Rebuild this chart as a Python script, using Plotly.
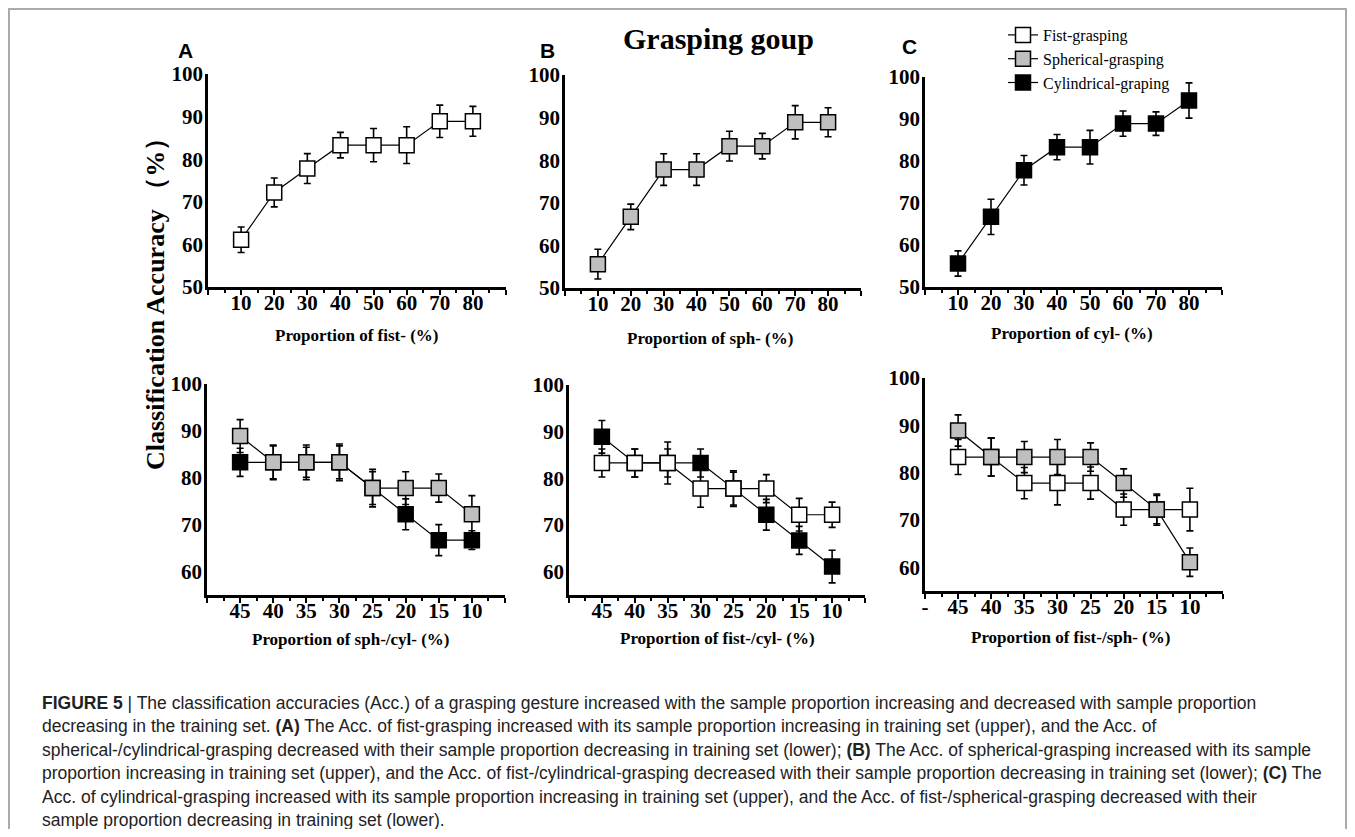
import plotly.graph_objects as go

# Page body has an 8px default margin, so the figure is made 16px smaller
# and all reference pixel positions are shifted by that offset.
OFF = 8
W, H = 1355 - 2 * OFF, 837 - 2 * OFF

# ---------------- data ----------------
x_up = [10, 20, 30, 40, 50, 60, 70, 80]
x_low = [45, 40, 35, 30, 25, 20, 15, 10]

# Upper row
a_fist = [61.1, 72.2, 77.8, 83.3, 83.3, 83.3, 88.9, 88.9]
a_fist_err = [3.0, 3.4, 3.5, 3.0, 3.9, 4.3, 3.8, 3.5]
b_sph = [55.6, 66.7, 77.8, 77.8, 83.3, 83.3, 88.9, 88.9]
b_sph_err = [3.5, 3.0, 3.7, 3.7, 3.5, 3.0, 3.9, 3.4]
c_cyl = [55.6, 66.7, 77.8, 83.3, 83.3, 88.9, 88.9, 94.4]
c_cyl_err = [3.0, 4.2, 3.5, 3.0, 4.0, 3.0, 2.8, 4.2]

# Lower row
la_sph = [88.9, 83.3, 83.3, 83.3, 77.8, 77.8, 77.8, 72.2]
la_sph_err = [3.5, 3.7, 3.7, 3.9, 4.0, 3.5, 3.0, 4.0]
la_cyl = [83.3, 83.3, 83.3, 83.3, 77.8, 72.2, 66.7, 66.7]
la_cyl_err = [3.0, 3.5, 3.2, 3.5, 3.5, 3.3, 3.3, 2.0]

lb_cyl = [88.9, 83.3, 83.3, 83.3, 77.8, 72.2, 66.7, 61.1]
lb_cyl_err = [3.5, 3.0, 3.0, 3.0, 3.5, 3.3, 3.0, 3.5]
lb_fist = [83.3, 83.3, 83.3, 77.8, 77.8, 77.8, 72.2, 72.2]
lb_fist_err = [3.0, 3.0, 4.5, 4.0, 3.8, 3.0, 3.5, 2.7]

lc_fist = [83.3, 83.3, 77.8, 77.8, 77.8, 72.2, 72.2, 72.2]
lc_fist_err = [3.7, 4.0, 3.3, 4.6, 3.4, 3.3, 3.3, 4.5]
lc_sph = [88.9, 83.3, 83.3, 83.3, 83.3, 77.8, 72.2, 61.1]
lc_sph_err = [3.3, 4.0, 3.3, 3.7, 3.0, 3.0, 3.0, 3.0]

up_tickvals = [0, 10, 20, 30, 40, 50, 60, 70, 80, 90]
up_ticktext = ["", "10", "20", "30", "40", "50", "60", "70", "80", ""]
low_tickvals = [50, 45, 40, 35, 30, 25, 20, 15, 10, 5]
low_ticktext = ["", "45", "40", "35", "30", "25", "20", "15", "10", ""]
low_ticktext_c = ["-", "45", "40", "35", "30", "25", "20", "15", "10", ""]
y_up_ticks = [50, 60, 70, 80, 90, 100]
y_low_ticks = [60, 70, 80, 90, 100]

x_titles = ["Proportion of fist- (%)", "Proportion of sph- (%)", "Proportion of cyl- (%)",
            "Proportion of sph-/cyl- (%)", "Proportion of fist-/cyl- (%)", "Proportion of fist-/sph- (%)"]

caption_lines = [
    "<b>FIGURE 5</b> | The classification accuracies (Acc.) of a grasping gesture increased with the sample proportion increasing and decreased with sample proportion",
    "decreasing in the training set. <b>(A)</b> The Acc. of fist-grasping increased with its sample proportion increasing in training set (upper), and the Acc. of",
    "spherical-/cylindrical-grasping decreased with their sample proportion decreasing in training set (lower); <b>(B)</b> The Acc. of spherical-grasping increased with its sample",
    "proportion increasing in training set (upper), and the Acc. of fist-/cylindrical-grasping decreased with their sample proportion decreasing in training set (lower); <b>(C)</b> The",
    "Acc. of cylindrical-grasping increased with its sample proportion increasing in training set (upper), and the Acc. of fist-/spherical-grasping decreased with their",
    "sample proportion decreasing in training set (lower).",
]

# ---------------- helpers (reference screen pixels -> paper) ----------------
def px(x):
    return (x - OFF) / W

def py(y):
    return 1 - (y - OFF) / H

SERIF = "Liberation Serif"
FILL = {"fist": "white", "sph": "#bfbfbf", "cyl": "black"}
NAMES = {"fist": "Fist-grasping", "sph": "Spherical-grasping", "cyl": "Cylindrical-graping"}

fig = go.Figure()

def add(kind, x, y, err, ax, show=False):
    fig.add_trace(go.Scatter(
        x=x, y=y, mode="lines+markers", name=NAMES[kind],
        xaxis="x" + ax, yaxis="y" + ax, showlegend=show,
        line=dict(color="black", width=1.2),
        marker=dict(symbol="square", size=15, color=FILL[kind],
                    line=dict(color="black", width=1.5)),
        error_y=dict(type="data", array=err, color="black", thickness=1.6, width=3.5),
    ))

add("fist", x_up, a_fist, a_fist_err, "", True)
add("sph", x_up, b_sph, b_sph_err, "2", True)
add("cyl", x_up, c_cyl, c_cyl_err, "3", True)
add("cyl", x_low, la_cyl, la_cyl_err, "4")
add("sph", x_low, la_sph, la_sph_err, "4")
add("cyl", x_low, lb_cyl, lb_cyl_err, "5")
add("fist", x_low, lb_fist, lb_fist_err, "5")
add("fist", x_low, lc_fist, lc_fist_err, "6")
add("sph", x_low, lc_sph, lc_sph_err, "6")

# panel geometry in reference pixels: (x0, x1, ytop, ybottom)
panels = [
    (208, 506, 74, 287),
    (565, 861, 75, 288),
    (925, 1222, 77, 287),
    (207, 505, 384, 595),
    (569, 865, 385, 595),
    (925, 1223, 378, 591),
]

tickfont = dict(family=SERIF, size=21, color="black", weight="bold")
layout = dict(
    width=W, height=H, margin=dict(l=0, r=0, t=0, b=0, autoexpand=False),
    paper_bgcolor="white", plot_bgcolor="white",
    showlegend=True,
    legend=dict(x=px(1003), y=py(18), xanchor="left", yanchor="top",
                font=dict(family=SERIF, size=16, color="black"),
                bgcolor="rgba(0,0,0,0)", tracegroupgap=0,
                traceorder="normal"),
)

for i, (x0, x1, yt, yb) in enumerate(panels):
    sfx = "" if i == 0 else str(i + 1)
    upper = i < 3
    if upper:
        tv, tt, xr = up_tickvals, up_ticktext, [0, 90]
        minor_vals = [5, 15, 25, 35, 45, 55, 65, 75, 85]
        yr, ytv = [50, 100], y_up_ticks
    else:
        tv = low_tickvals
        tt = low_ticktext_c if i == 5 else low_ticktext
        xr = [50, 5]
        minor_vals = [47.5, 42.5, 37.5, 32.5, 27.5, 22.5, 17.5, 12.5, 7.5]
        yr, ytv = [55, 100], y_low_ticks
    layout["xaxis" + sfx] = dict(
        domain=[px(x0), px(x1)], anchor="y" + sfx, range=xr, automargin=False,
        tickmode="array", tickvals=tv, ticktext=tt,
        showline=True, linecolor="black", linewidth=2.5,
        ticks="outside", ticklen=5, tickwidth=2, tickcolor="black",
        ticklabelstandoff=-10,
        minor=dict(tickmode="array", tickvals=minor_vals, ticks="outside",
                   ticklen=3, tickwidth=1.5, tickcolor="black"),
        showgrid=False, zeroline=False, tickfont=tickfont,
    )
    layout["yaxis" + sfx] = dict(
        domain=[py(yb), py(yt)], anchor="x" + sfx, range=yr, automargin=False,
        tickmode="array", tickvals=ytv,
        showline=True, linecolor="black", linewidth=2.5,
        ticks="", showgrid=False, zeroline=False, tickfont=tickfont,
        ticklabelstandoff=-2,
    )

fig.update_layout(**layout)

ann = []
# x-axis titles
title_pos = [(357, 335), (710, 338), (1072, 333), (351, 639), (717, 638), (1070, 637)]
for t, (xc, yc) in zip(x_titles, title_pos):
    ann.append(dict(x=px(xc), y=py(yc), xref="paper", yref="paper", text=t,
                    showarrow=False, xanchor="center", yanchor="middle",
                    font=dict(family=SERIF, size=17, color="black", weight="bold")))
# y-axis title
ann.append(dict(x=px(155), y=py(298), xref="paper", yref="paper",
                text="Classification Accuracy （%）", textangle=-90, showarrow=False,
                xanchor="center", yanchor="middle",
                font=dict(family=SERIF, size=26, color="black", weight="bold")))
# main title
ann.append(dict(x=px(718), y=py(38), xref="paper", yref="paper", text="Grasping goup",
                showarrow=False, xanchor="center", yanchor="middle",
                font=dict(family=SERIF, size=30, color="black", weight="bold")))
# panel letters
for letter, (xc, yc) in zip(["A", "B", "C"], [(185, 50), (547, 50), (909, 46)]):
    ann.append(dict(x=px(xc), y=py(yc), xref="paper", yref="paper", text=letter,
                    showarrow=False, xanchor="center", yanchor="middle",
                    font=dict(family="Liberation Sans", size=21, color="black", weight="bold")))
# caption
for k, line in enumerate(caption_lines):
    ann.append(dict(x=px(40), y=py(703 + 23.4 * k), xref="paper", yref="paper", text=line,
                    showarrow=False, xanchor="left", yanchor="middle",
                    font=dict(family="Liberation Sans", size=17.5, color="#222222")))
fig.update_layout(annotations=ann)

# outer frame (kept inside the visible figure area)
fig.add_shape(type="rect", xref="paper", yref="paper",
              x0=px(9), x1=px(1346), y0=py(860), y1=py(9),
              line=dict(color="#aaaaaa", width=2), fillcolor="rgba(0,0,0,0)")

fig.write_html("out.html")
